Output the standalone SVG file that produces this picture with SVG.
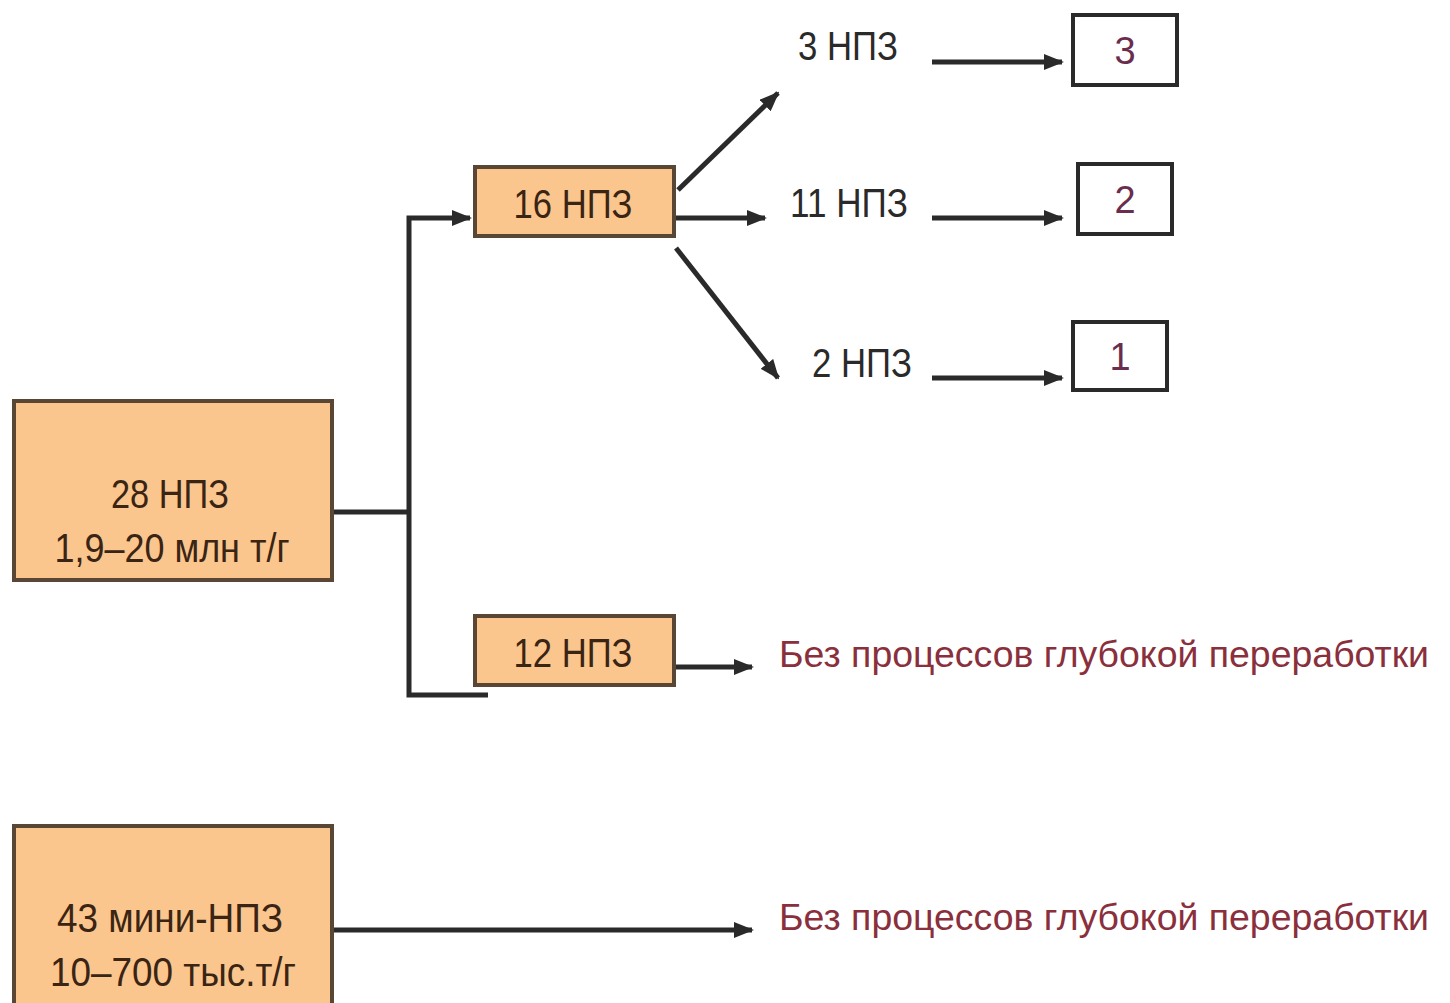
<svg xmlns="http://www.w3.org/2000/svg" width="1450" height="1003" viewBox="0 0 1450 1003">
<style>
.box{fill:#fbc68e;stroke:#5a4634;stroke-width:4}
.sq{fill:#ffffff;stroke:#2a2a2a;stroke-width:4}
.bt{font-family:"Liberation Sans",Arial,sans-serif;font-size:40px;fill:#3a2414;text-anchor:middle}
.lt{font-family:"Liberation Sans",Arial,sans-serif;font-size:40px;fill:#2a2a2a;text-anchor:start}
.nt{font-family:"Liberation Sans",Arial,sans-serif;font-size:38px;fill:#6b2d4e;text-anchor:middle}
.rt{font-family:"Liberation Sans",Arial,sans-serif;font-size:37px;fill:#8a2f3c;text-anchor:start}
.ln{fill:none;stroke:#2a2a2a;stroke-width:5}
</style>
<defs>
<marker id="ah" markerUnits="userSpaceOnUse" markerWidth="20" markerHeight="16" refX="18" refY="8" orient="auto">
<path d="M0,0 L20,8 L0,16 Z" fill="#2a2a2a"/>
</marker>
</defs>
<rect width="1450" height="1003" fill="#ffffff"/>
<g id="connectors">
<polyline class="ln" points="332,512 409,512"/>
<polyline class="ln" points="488,695 409,695 409,218 470,218" marker-end="url(#ah)"/>
<line class="ln" x1="678" y1="190" x2="778" y2="93" marker-end="url(#ah)"/>
<line class="ln" x1="676" y1="218" x2="765" y2="218" marker-end="url(#ah)"/>
<line class="ln" x1="676" y1="248" x2="778" y2="378" marker-end="url(#ah)"/>
<line class="ln" x1="932" y1="62" x2="1062" y2="62" marker-end="url(#ah)"/>
<line class="ln" x1="932" y1="218" x2="1062" y2="218" marker-end="url(#ah)"/>
<line class="ln" x1="932" y1="378" x2="1062" y2="378" marker-end="url(#ah)"/>
<line class="ln" x1="676" y1="667" x2="752" y2="667" marker-end="url(#ah)"/>
<line class="ln" x1="332" y1="930" x2="752" y2="930" marker-end="url(#ah)"/>
</g>
<g id="n28">
<rect class="box" x="14" y="401" width="318" height="179"/>
<text class="bt" x="170" y="508" textLength="118" lengthAdjust="spacingAndGlyphs">28 НПЗ</text>
<text class="bt" x="172" y="562" textLength="235" lengthAdjust="spacingAndGlyphs">1,9–20 млн т/г</text>
</g>
<g id="n16">
<rect class="box" x="475" y="167" width="199" height="69"/>
<text class="bt" x="573" y="218" textLength="119" lengthAdjust="spacingAndGlyphs">16 НПЗ</text>
</g>
<g id="n12">
<rect class="box" x="475" y="616" width="199" height="69"/>
<text class="bt" x="573" y="667" textLength="119" lengthAdjust="spacingAndGlyphs">12 НПЗ</text>
</g>
<g id="l3">
<text class="lt" x="798" y="60" textLength="100" lengthAdjust="spacingAndGlyphs">3 НПЗ</text>
</g>
<g id="l11">
<text class="lt" x="790" y="217" textLength="118" lengthAdjust="spacingAndGlyphs">11 НПЗ</text>
</g>
<g id="l2">
<text class="lt" x="812" y="377" textLength="100" lengthAdjust="spacingAndGlyphs">2 НПЗ</text>
</g>
<g id="s3">
<rect class="sq" x="1073" y="15" width="104" height="70"/>
<text class="nt" x="1125" y="64">3</text>
</g>
<g id="s2">
<rect class="sq" x="1078" y="164" width="94" height="70"/>
<text class="nt" x="1125" y="213">2</text>
</g>
<g id="s1">
<rect class="sq" x="1073" y="322" width="94" height="68"/>
<text class="nt" x="1120" y="370">1</text>
</g>
<g id="r1">
<text class="rt" x="779" y="667" textLength="650" lengthAdjust="spacingAndGlyphs">Без процессов глубокой переработки</text>
</g>
<g id="n43">
<rect class="box" x="14" y="826" width="318" height="190"/>
<text class="bt" x="170" y="932" textLength="226" lengthAdjust="spacingAndGlyphs">43 мини-НПЗ</text>
<text class="bt" x="173" y="986" textLength="246" lengthAdjust="spacingAndGlyphs">10–700 тыс.т/г</text>
</g>
<g id="r2">
<text class="rt" x="779" y="930" textLength="650" lengthAdjust="spacingAndGlyphs">Без процессов глубокой переработки</text>
</g>
</svg>
